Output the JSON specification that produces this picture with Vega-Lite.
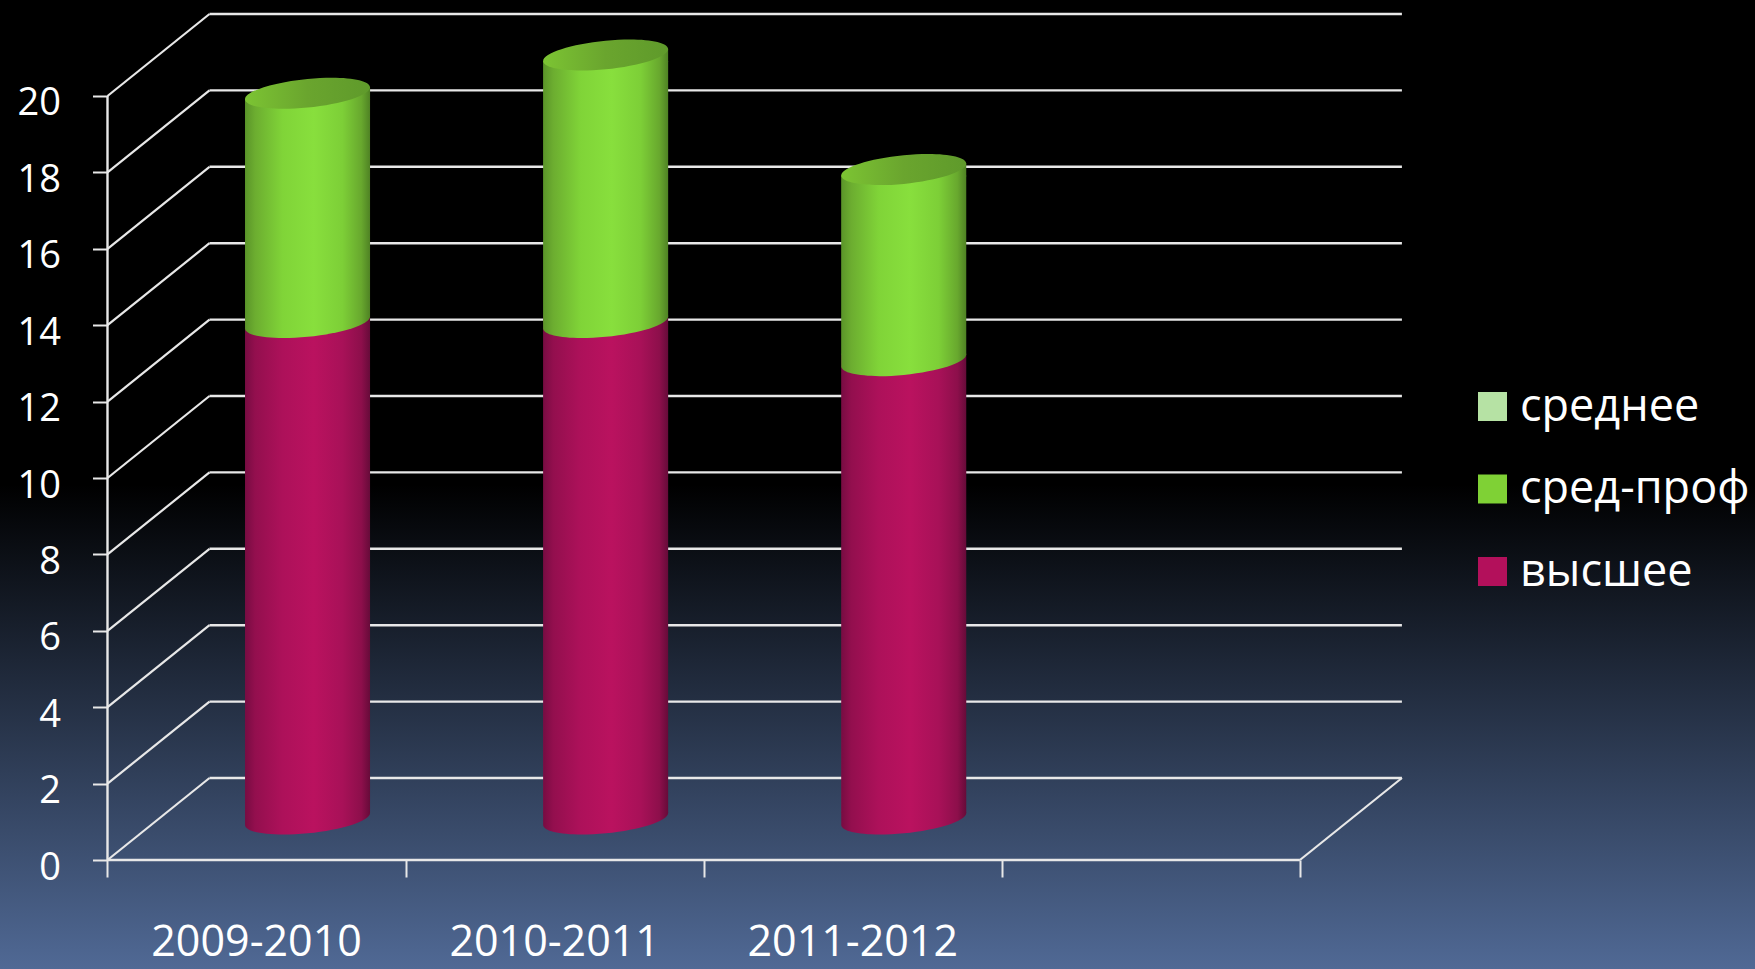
{
"$schema":"https://vega.github.io/schema/vega-lite/v6.json",
"width":1755,"height":969,"padding":0,"autosize":{"type":"none"},
"background":"#000000",
"view":{"stroke":null,"fill":{"gradient":"linear","x1":0,"y1":0,"x2":0,"y2":1,"stops":[{"offset":0,"color":"#000000"},{"offset":0.5,"color":"#000000"},{"offset":1,"color":"#506995"}]}},
"config":{"font":"Open Sans"},
"data":{"values":[{"v":0},{"v":2},{"v":4},{"v":6},{"v":8},{"v":10},{"v":12},{"v":14},{"v":16},{"v":18},{"v":20}]},
"layer":[
{"mark":{"type":"rule","color":"#e8e8e8","strokeWidth":2.4,"xOffset":102,"x2Offset":102,"yOffset":-82},
 "encoding":{
  "x":{"datum":0,"type":"quantitative","scale":{"domain":[-0.3606,5.5266],"nice":false,"zero":false,"padding":0},
   "axis":{"values":[0,1,2,3,4],"title":null,"labels":false,"domain":false,"grid":false,"ticks":true,"tickSize":17,"tickWidth":2,"tickColor":"#e8e8e8","offset":-109}},
  "x2":{"datum":4},
  "y":{"field":"v","type":"quantitative","scale":{"domain":[-2.853,22.513],"nice":false,"zero":false,"padding":0},
   "axis":{"values":[0,2,4,6,8,10,12,14,16,18,20],"title":null,"domain":false,"grid":false,"ticks":true,"tickSize":15,"tickWidth":2,"tickColor":"#e8e8e8","offset":-107.5,"labelColor":"#ffffff","labelFontSize":38,"labelPadding":32,"labelOffset":8,"labelFont":"Open Sans"}}}},
{"mark":{"type":"rule","color":"#e8e8e8","strokeWidth":2.2,"x2Offset":102,"y2Offset":-82},
 "encoding":{"x":{"datum":0,"type":"quantitative"},"x2":{"datum":0},"y":{"field":"v","type":"quantitative"},"y2":{"field":"v"}}},
{"transform":[{"filter":"datum.v==0"}],
 "mark":{"type":"rule","color":"#e8e8e8","strokeWidth":2.2,"x2Offset":102,"y2Offset":-82},
 "encoding":{"x":{"datum":4,"type":"quantitative"},"x2":{"datum":4},"y":{"field":"v","type":"quantitative"},"y2":{"field":"v"}}},
{"transform":[{"filter":"datum.v==0"}],
 "mark":{"type":"rule","color":"#e8e8e8","strokeWidth":2.4},
 "encoding":{"x":{"datum":0,"type":"quantitative"},"x2":{"datum":4},"y":{"field":"v","type":"quantitative"}}},
{"transform":[{"filter":"datum.v==0"}],
 "mark":{"type":"rule","color":"#e8e8e8","strokeWidth":2.4},
 "encoding":{"x":{"datum":0,"type":"quantitative"},"y":{"datum":0,"type":"quantitative"},"y2":{"datum":20}}},
{"data":{"values":[
 {"period":"2009-2010","slot":0.5,"level":"высшее","order":1,"value":13},
 {"period":"2009-2010","slot":0.5,"level":"сред-проф","order":2,"value":6},
 {"period":"2009-2010","slot":0.5,"level":"среднее","order":3,"value":0},
 {"period":"2010-2011","slot":1.5,"level":"высшее","order":1,"value":13},
 {"period":"2010-2011","slot":1.5,"level":"сред-проф","order":2,"value":7},
 {"period":"2010-2011","slot":1.5,"level":"среднее","order":3,"value":0},
 {"period":"2011-2012","slot":2.5,"level":"высшее","order":1,"value":12},
 {"period":"2011-2012","slot":2.5,"level":"сред-проф","order":2,"value":5},
 {"period":"2011-2012","slot":2.5,"level":"среднее","order":3,"value":0}]},
 "transform":[{"stack":"value","groupby":["period"],"sort":[{"field":"order","order":"ascending"}],"as":["y0","y1"]}],
 "layer":[
 {"transform":[{"filter":"datum.value>0"}],
  "mark":{"type":"bar","size":124,"xOffset":51,"yOffset":-35,"y2Offset":-47},
  "encoding":{"x":{"field":"slot","type":"quantitative"},"y":{"field":"y1","type":"quantitative"},"y2":{"field":"y0"},
   "color":{"field":"level","type":"nominal","scale":{"domain":["среднее","сред-проф","высшее"],"range":["#b6e2a4","#7fd135","#b3105b"]},
    "legend":{"title":null,"orient":"none","legendX":1470,"legendY":384,"symbolType":"square","symbolSize":841,"symbolStrokeWidth":0,"symbolOpacity":1,"labelFontSize":45,"labelColor":"#ffffff","labelFont":"Open Sans","labelOffset":5,"rowPadding":36.5,"labelLimit":300}}}},
 {"transform":[{"filter":"datum.order==1"}],
  "mark":{"type":"bar","size":125,"xOffset":51,"yOffset":-47,"y2Offset":-47,
   "fill":{"gradient":"linear","x1":0,"y1":0,"x2":1,"y2":0,"stops":[{"offset":0,"color":"#770c42"},{"offset":0.08,"color":"#930f4e"},{"offset":0.3,"color":"#ad115a"},{"offset":0.55,"color":"#ba125f"},{"offset":0.78,"color":"#a81158"},{"offset":0.93,"color":"#8d0f4b"},{"offset":1,"color":"#660b39"}]}},
  "encoding":{"x":{"field":"slot","type":"quantitative"},"y":{"field":"y1","type":"quantitative"},"y2":{"field":"y0"}}},
 {"transform":[{"filter":"datum.order==1"}],
  "mark":{"type":"point","filled":true,"opacity":1,"size":15625,"xOffset":51,"yOffset":-41,"shape":"M-1,-0.11 L-1,0.096 C-1,0.2225 -0.5523,0.282 0,0.229 C0.5523,0.176 1,0.0305 1,-0.096 L1,-0.11 Z",
   "fill":{"gradient":"linear","x1":0,"y1":0,"x2":1,"y2":0,"stops":[{"offset":0,"color":"#770c42"},{"offset":0.08,"color":"#930f4e"},{"offset":0.3,"color":"#ad115a"},{"offset":0.55,"color":"#ba125f"},{"offset":0.78,"color":"#a81158"},{"offset":0.93,"color":"#8d0f4b"},{"offset":1,"color":"#660b39"}]}},
  "encoding":{"x":{"field":"slot","type":"quantitative"},"y":{"field":"y0","type":"quantitative"}}},
 {"transform":[{"filter":"datum.order==2"}],
  "mark":{"type":"bar","size":125,"xOffset":51,"yOffset":-35,"y2Offset":-47,
   "fill":{"gradient":"linear","x1":0,"y1":0,"x2":1,"y2":0,"stops":[{"offset":0,"color":"#5a9429"},{"offset":0.08,"color":"#6cad30"},{"offset":0.3,"color":"#80d438"},{"offset":0.55,"color":"#88df3d"},{"offset":0.78,"color":"#7dcf37"},{"offset":0.93,"color":"#68a82e"},{"offset":1,"color":"#4f8224"}]}},
  "encoding":{"x":{"field":"slot","type":"quantitative"},"y":{"field":"y1","type":"quantitative"},"y2":{"field":"y0"}}},
 {"transform":[{"filter":"datum.order==2"}],
  "mark":{"type":"point","filled":true,"opacity":1,"size":15625,"xOffset":51,"yOffset":-41,"shape":"M-1,-0.11 L-1,0.096 C-1,0.2225 -0.5523,0.282 0,0.229 C0.5523,0.176 1,0.0305 1,-0.096 L1,-0.11 Z",
   "fill":{"gradient":"linear","x1":0,"y1":0,"x2":1,"y2":0,"stops":[{"offset":0,"color":"#5a9429"},{"offset":0.08,"color":"#6cad30"},{"offset":0.3,"color":"#80d438"},{"offset":0.55,"color":"#88df3d"},{"offset":0.78,"color":"#7dcf37"},{"offset":0.93,"color":"#68a82e"},{"offset":1,"color":"#4f8224"}]}},
  "encoding":{"x":{"field":"slot","type":"quantitative"},"y":{"field":"y0","type":"quantitative"}}},
 {"transform":[{"filter":"datum.order==2"}],
  "mark":{"type":"point","filled":true,"opacity":1,"size":15625,"xOffset":51,"yOffset":-41,"shape":"M-1,0.11 L-1,0.096 L1,-0.096 L1,0.11 Z",
   "fill":{"gradient":"linear","x1":0,"y1":0,"x2":1,"y2":0,"stops":[{"offset":0,"color":"#5a9429"},{"offset":0.08,"color":"#6cad30"},{"offset":0.3,"color":"#80d438"},{"offset":0.55,"color":"#88df3d"},{"offset":0.78,"color":"#7dcf37"},{"offset":0.93,"color":"#68a82e"},{"offset":1,"color":"#4f8224"}]}},
  "encoding":{"x":{"field":"slot","type":"quantitative"},"y":{"field":"y1","type":"quantitative"}}},
 {"transform":[{"filter":"datum.order==2"}],
  "mark":{"type":"point","filled":true,"opacity":1,"size":15625,"xOffset":51,"yOffset":-41,"shape":"M-1,0.096 C-1,0.2225 -0.5523,0.282 0,0.229 C0.5523,0.176 1,0.0305 1,-0.096 C1,-0.2225 0.5523,-0.282 0,-0.229 C-0.5523,-0.176 -1,-0.0305 -1,0.096 Z",
   "fill":{"gradient":"linear","x1":0,"y1":0,"x2":1,"y2":0,"stops":[{"offset":0,"color":"#7cc433"},{"offset":0.5,"color":"#6aa52e"},{"offset":1,"color":"#5f9a2b"}]}},
  "encoding":{"x":{"field":"slot","type":"quantitative"},"y":{"field":"y1","type":"quantitative"}}},
 {"transform":[{"filter":"datum.order==1"}],
  "mark":{"type":"text","fontSize":43,"color":"#ffffff","font":"Open Sans","baseline":"alphabetic","align":"center"},
  "encoding":{"x":{"field":"slot","type":"quantitative"},"y":{"datum":-2.5,"type":"quantitative"},"text":{"field":"period"}}}
 ]}
]
}
